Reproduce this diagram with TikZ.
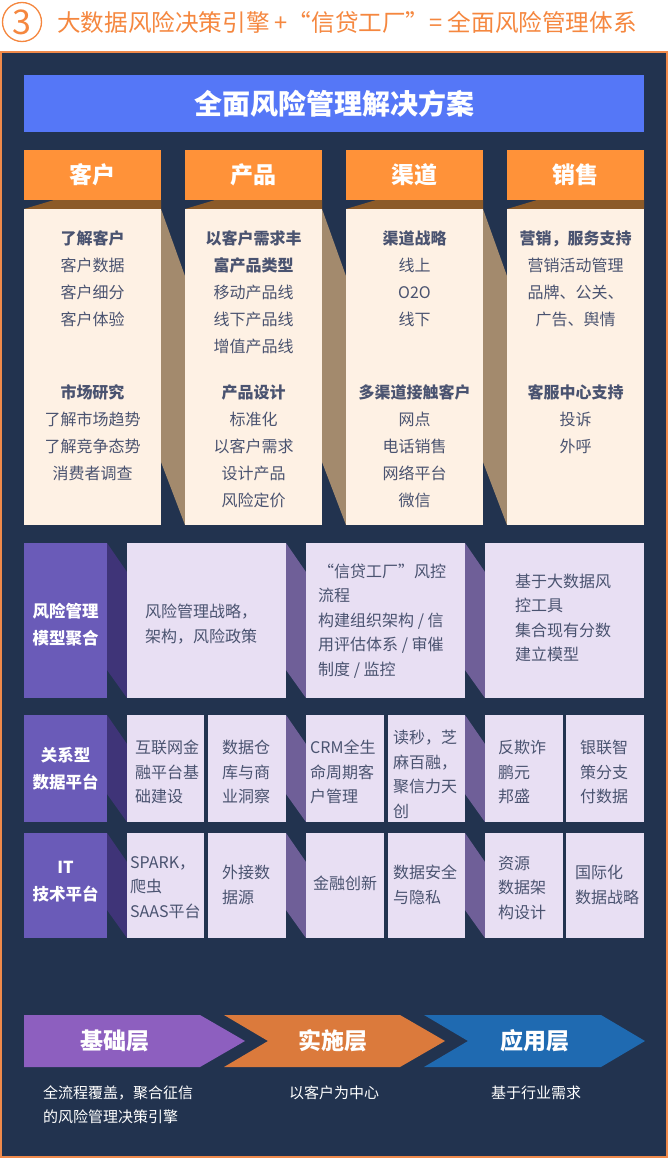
\documentclass[tikz,border=0pt]{standalone}
\usepackage{fontspec}
\setmainfont{Noto Sans CJK SC}
\definecolor{navy}{HTML}{22334F}
\definecolor{panelborder}{HTML}{F08A4B}
\definecolor{titleorange}{HTML}{F5873F}
\definecolor{banner}{HTML}{5577F7}
\definecolor{hdrorange}{HTML}{FF9239}
\definecolor{hdrshadow}{HTML}{8C5A28}
\definecolor{tanshadow}{HTML}{A38A6D}
\definecolor{cream}{HTML}{FEF1E4}
\definecolor{bodytext}{HTML}{4A5370}
\definecolor{labpurple}{HTML}{6A5BB8}
\definecolor{darkshadow}{HTML}{3F3478}
\definecolor{lavender}{HTML}{E8DFF3}
\definecolor{midshadow}{HTML}{6F5F98}
\definecolor{arrpurple}{HTML}{8D5FBF}
\definecolor{arrorange}{HTML}{DB7A3C}
\definecolor{arrblue}{HTML}{1F6AB1}
\tikzset{
  hdrbox/.style={fill=hdrorange, text=white, font=\bfseries\fontsize{23}{23}\selectfont,
    minimum width=137, minimum height=50, inner sep=0},
  creamtxt/.style={text=bodytext, align=center, font=\fontsize{16}{27}\selectfont, inner sep=0},
  lavtxt/.style={text=bodytext, align=left, anchor=west, font=\fontsize{16}{24.5}\selectfont, inner sep=0},
  labtxt/.style={text=white, align=center, font=\bfseries\fontsize{16.5}{27}\selectfont, inner sep=0},
  arrtxt/.style={text=white, font=\bfseries\fontsize{23}{23}\selectfont, inner sep=0},
  foottxt/.style={text=white, align=left, font=\fontsize{15}{24}\selectfont, inner sep=0}
}
\begin{document}
\begin{tikzpicture}[x=1pt,y=-1pt]
\useasboundingbox (0,0) rectangle (668,1159);
\fill[white] (0,0) rectangle (668,1159);
% header
\draw[titleorange, line width=1.3] (22,22) circle (19.5);
\node[text=titleorange, font=\fontsize{34}{34}\selectfont, inner sep=0] (num) at (22,22) {3};
\node[text=titleorange, anchor=west, font=\fontsize{23.6}{24}\selectfont, inner sep=0] (title) at (57,22)
  {大数据风险决策引擎 +“信贷工厂”= 全面风险管理体系};
% panel
\fill[navy] (1,52) rectangle (667,1157);
\draw[panelborder, line width=1.2] (1,52) rectangle (667,1157);
% banner
\node[fill=banner, text=white, font=\bfseries\fontsize{28}{28}\selectfont, minimum width=620,
  minimum height=57, inner sep=0] (banner) at (334,103.5) {全面风险管理解决方案};
% columns
\foreach \L/\R in {24/161,185/322,346/483,507/644}{
  \fill[hdrshadow] (\L,209) -- (\L+30,200) -- (\R,200) -- (\R,209) -- cycle;
}
\foreach \R in {161,322,483}{
  \fill[tanshadow] (\R,209) -- (\R+24,276) -- (\R+24,525) -- (\R,462) -- cycle;
}
\foreach \L/\R in {24/161,185/322,346/483,507/644}{
  \fill[cream] (\L,209) rectangle (\R,525);
}
\node[hdrbox] (h1) at (92.5,175) {客户};
\node[hdrbox] (h2) at (253.5,175) {产品};
\node[hdrbox] (h3) at (414.5,175) {渠道};
\node[hdrbox] (h4) at (575.5,175) {销售};
\node[creamtxt] (c1a) at (92.5,278.5) {\textbf{了解客户}\\客户数据\\客户细分\\客户体验};
\node[creamtxt] (c1b) at (92.5,432.5) {\textbf{市场研究}\\了解市场趋势\\了解竞争态势\\消费者调查};
\node[creamtxt] (c2a) at (253.5,292) {\textbf{以客户需求丰}\\\textbf{富产品类型}\\移动产品线\\线下产品线\\增值产品线};
\node[creamtxt] (c2b) at (253.5,446) {\textbf{产品设计}\\标准化\\以客户需求\\设计产品\\风险定价};
\node[creamtxt] (c3a) at (414.5,278.5) {\textbf{渠道战略}\\线上\\O2O\\线下};
\node[creamtxt] (c3b) at (414.5,446) {\textbf{多渠道接触客户}\\网点\\电话销售\\网络平台\\微信};
\node[creamtxt] (c4a) at (575.5,278.5) {\textbf{营销，服务支持}\\营销活动管理\\品牌、公关、\\广告、舆情};
\node[creamtxt] (c4b) at (575.5,419) {\textbf{客服中心支持}\\投诉\\外呼};
% rows: shadows
\foreach \T/\B in {543/698,715/822,833/938}{
  \fill[darkshadow] (107,\T) -- (127,\T+29) -- (127,\B) -- (107,\B-28) -- cycle;
  \fill[midshadow] (286,\T) -- (306,\T+29) -- (306,\B) -- (286,\B-28) -- cycle;
  \fill[midshadow] (465,\T) -- (485,\T+29) -- (485,\B) -- (465,\B-28) -- cycle;
  \fill[labpurple] (24,\T) rectangle (107,\B);
}
% row 1
\fill[lavender] (127,543) rectangle (286,698);
\fill[lavender] (306,543) rectangle (465,698);
\fill[lavender] (485,543) rectangle (644,698);
\node[labtxt] (l1) at (65.5,624.5) {风险管理\\模型聚合};
\node[lavtxt] (r1a) at (145,624) {风险管理战略，\\架构，风险政策};
\node[lavtxt] (r1b) at (318,621) {“信贷工厂”风控\\流程\\构建组织架构 / 信\\用评估体系 / 审催\\制度 / 监控};
\node[lavtxt] (r1c) at (515,618) {基于大数据风\\控工具\\集合现有分数\\建立模型};
% row 2 and 3 boxes
\foreach \T/\B in {715/822,833/938}{
  \foreach \L/\R in {127/204,208/286,306/384,388/465,485/563,566/644}{
    \fill[lavender] (\L,\T) rectangle (\R,\B);
  }
}
\node[labtxt] (l2) at (65.5,768.5) {关系型\\数据平台};
\node[lavtxt] (r2a) at (135,772) {互联网金\\融平台基\\础建设};
\node[lavtxt] (r2b) at (222,772) {数据仓\\库与商\\业洞察};
\node[lavtxt] (r2c) at (310,772) {CRM全生\\命周期客\\户管理};
\node[lavtxt] (r2d) at (393,774.5) {读秒，芝\\麻百融，\\聚信力天\\创};
\node[lavtxt] (r2e) at (498,772) {反欺诈\\鹏元\\邦盛};
\node[lavtxt] (r2f) at (580,772) {银联智\\策分支\\付数据};
\node[labtxt] (l3) at (65.5,881.5) {IT\\技术平台};
\node[lavtxt] (r3a) at (130,887.5) {SPARK，\\爬虫\\SAAS平台};
\node[lavtxt] (r3b) at (222,885) {外接数\\据源};
\node[lavtxt, anchor=center] (r3c) at (345,883) {金融创新};
\node[lavtxt] (r3d) at (393,885) {数据安全\\与隐私};
\node[lavtxt] (r3e) at (498,887.5) {资源\\数据架\\构设计};
\node[lavtxt] (r3f) at (575,885) {国际化\\数据战略};
% bottom arrows
\fill[arrpurple] (24,1015) -- (200,1015) -- (245,1041) -- (200,1067) -- (24,1067) -- cycle;
\fill[arrorange] (224,1015) -- (400,1015) -- (445,1041) -- (400,1067) -- (224,1067) -- (268,1041) -- cycle;
\fill[arrblue] (424,1015) -- (601,1015) -- (645,1041) -- (601,1067) -- (424,1067) -- (468,1041) -- cycle;
\node[arrtxt] (a1) at (115,1041) {基础层};
\node[arrtxt] (a2) at (333,1041) {实施层};
\node[arrtxt] (a3) at (535,1041) {应用层};
\node[foottxt, anchor=west] (f1) at (43,1105) {全流程覆盖，聚合征信\\的风险管理决策引擎};
\node[foottxt] (f2) at (334,1093) {以客户为中心};
\node[foottxt] (f3) at (536,1093) {基于行业需求};
\end{tikzpicture}
\end{document}
